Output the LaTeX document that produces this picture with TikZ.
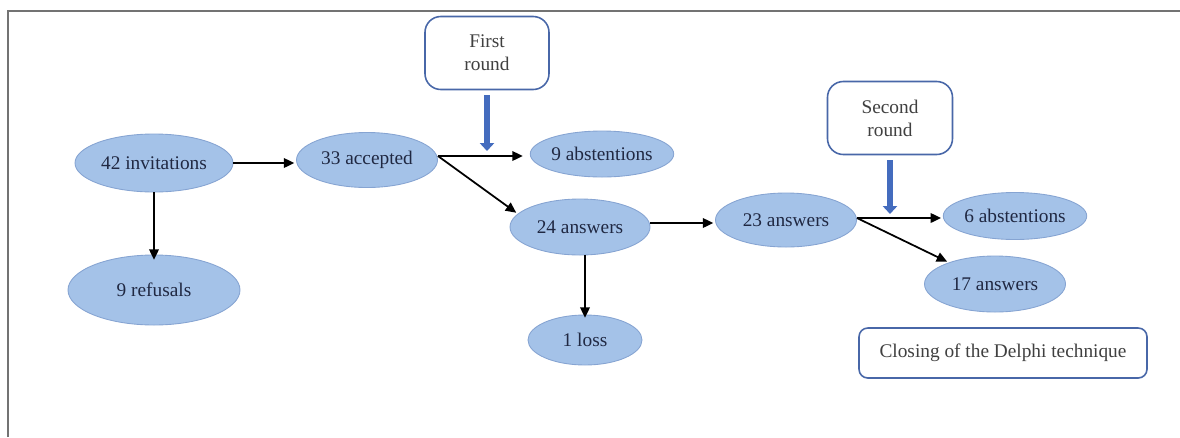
\documentclass[tikz,border=0pt]{standalone}
\usepackage{fontspec}
\setmainfont{Liberation Serif}
\usetikzlibrary{shapes.geometric,arrows.meta}
\definecolor{ellfill}{RGB}{164,194,232}
\definecolor{elldraw}{RGB}{134,164,210}
\definecolor{boxdraw}{RGB}{72,103,168}
\definecolor{roundblue}{RGB}{68,108,190}
\definecolor{txt}{RGB}{32,40,66}
\tikzset{
  stage/.style={ellipse, draw=elldraw, fill=ellfill, line width=0.5pt, text=txt,
    font=\fontsize{11}{13}\selectfont, inner sep=0pt},
  roundbox/.style={rectangle, rounded corners=9pt, draw=boxdraw, line width=0.9pt,
    fill=white, text=black!75, align=center, font=\fontsize{11}{13}\selectfont},
  flow/.style={line width=1pt, -{Triangle[length=6pt,width=5.5pt]}, shorten >=1pt},
  roundarrow/.style={line width=3.4pt, -{Triangle[length=4.5pt,width=8pt]}, color=roundblue}
}
\begin{document}
\begin{tikzpicture}[x=0.02cm,y=-0.02cm]
		\useasboundingbox (0,0) rectangle (1180,437);
		%%%%% FRAME %%%%%
		\draw[black!55, line width=1pt] (8,437) -- (8,11) -- (1180,11);
		
		%%%%% FIRST ROUND %%%%%
		\node[stage, minimum width=158*0.02cm, minimum height=58*0.02cm] (inv) at (154,163) {42 invitations};
		\node[stage, minimum width=172*0.02cm, minimum height=70*0.02cm] (refus) at (154,290) {9 refusals};
		\node[stage, minimum width=141*0.02cm, minimum height=55*0.02cm] (accept) at (367,160) {33 accepted};
		\node[stage, minimum width=140*0.02cm, minimum height=46*0.02cm] (abst1) at (602,154) {9 abstentions};
		\node[stage, minimum width=140*0.02cm, minimum height=56*0.02cm] (ans1) at (580,227) {24 answers};
		\node[stage, minimum width=114*0.02cm, minimum height=50*0.02cm] (loss) at (585,340) {1 loss};
		\node[roundbox, minimum width=124*0.02cm, minimum height=73*0.02cm] (round1) at (487,53) {First\\round};
		\coordinate (r1tip) at (485,151);
		
		\draw[flow] (inv.south) -- ([yshift=-7*0.02cm]refus.north);
		\draw[flow] (inv.east) -- (inv.east -| accept.west);
		\draw[flow] ([yshift=4*0.02cm]accept.east) coordinate (a1) -- ([xshift=-3pt]a1 -| abst1.west);
		\draw[flow] (a1) -- (ans1.168);
		\draw[flow] (loss.north |- ans1.south) -- ([yshift=-5*0.02cm]loss.north);
		\draw[roundarrow] ([yshift=-5*0.02cm]round1.south) -- (round1.south |- r1tip);
		
		%%%%% SECOND ROUND %%%%%
		\node[stage, minimum width=141*0.02cm, minimum height=54*0.02cm] (ans2) at (786,220) {23 answers};
		\node[stage, minimum width=141*0.02cm, minimum height=47*0.02cm] (abst2) at (1015,216) {6 abstentions};
		\node[stage, minimum width=141*0.02cm, minimum height=56*0.02cm] (ans3) at (995,284) {17 answers};
		\node[roundbox, minimum width=125*0.02cm, minimum height=73*0.02cm] (round2) at (890,118) {Second\\round};
		\node[roundbox, rounded corners=5pt, minimum width=288*0.02cm, minimum height=50*0.02cm] (closing) at (1003,353) {Closing of the Delphi technique};
		\coordinate (r2tip) at (892,214);
		
		\draw[flow] ([yshift=4*0.02cm]ans1.east) coordinate (a2) -- (a2 -| ans2.west);
		\draw[flow] ([yshift=2*0.02cm]ans2.east) coordinate (a3) -- (a3 -| abst2.west);
		\draw[flow] (a3) -- (ans3.155);
		\draw[roundarrow] ([yshift=-5*0.02cm]round2.south) -- (round2.south |- r2tip);
		%%%%% END %%%%%
\end{tikzpicture}
\end{document}
